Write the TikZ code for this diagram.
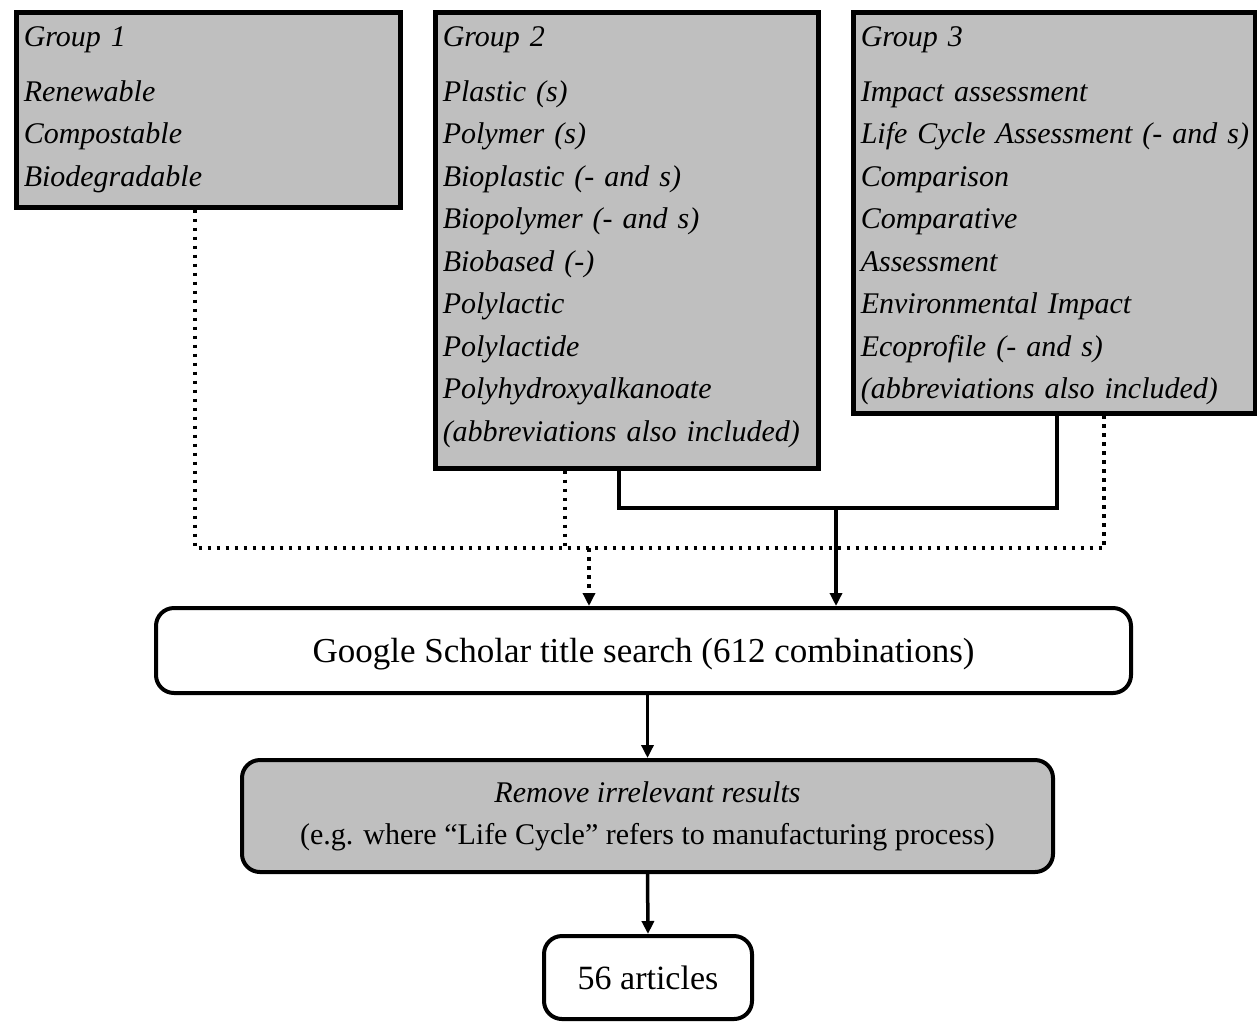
\documentclass[tikz,border=0pt]{standalone}
\usepackage{fontspec}
\setmainfont{Liberation Serif}
\usetikzlibrary{arrows.meta, positioning}
\definecolor{boxgray}{gray}{0.75}

\begin{document}
\begin{tikzpicture}[x=1pt, y=-1pt, >={Triangle[length=13pt, width=12pt]},
	grpbox/.style={draw, line width=4.5pt, fill=boxgray, anchor=north west,
		align=left, inner xsep=7.5pt, inner ysep=0pt,
		font=\fontsize{30}{42.5}\selectfont\itshape},
	stepbox/.style={draw, line width=4pt, rounded corners=18pt,
		align=center, inner sep=0pt},
	solline/.style={line width=3.5pt},
	dotline/.style={line width=3.5pt, dash pattern=on 3.5pt off 5.5pt}]
	
	\useasboundingbox (0,0) rectangle (1257,1021);
	
	% Search term groups
	\node[grpbox, minimum width=384pt, text width=369pt] (g1) at (14,10)
		{\rule{0pt}{34pt}Group 1\\[12.5pt] Renewable\\ Compostable\\ Biodegradable\rule[-21pt]{0pt}{0pt}};
	\node[grpbox, minimum width=383pt, text width=368pt] (g2) at (433,10)
		{\rule{0pt}{34pt}Group 2\\[12.5pt] Plastic (s)\\ Polymer (s)\\ Bioplastic (- and s)\\ Biopolymer (- and s)\\
		 Biobased (-)\\ Polylactic\\ Polylactide\\ Polyhydroxyalkanoate\\ (abbreviations also included)\rule[-27pt]{0pt}{0pt}};
	\node[grpbox, minimum width=402pt, text width=387pt] (g3) at (851,10)
		{\rule{0pt}{34pt}Group 3\\[12.5pt] Impact assessment\\ \mbox{Life Cycle Assessment (- and s)}\\ Comparison\\
		 Comparative\\ Assessment\\ Environmental Impact\\ Ecoprofile (- and s)\\ (abbreviations also included)\rule[-14.5pt]{0pt}{0pt}};
	
	% Steps
	\node[stepbox, minimum width=975pt, minimum height=85pt, text height=23pt, text depth=0pt,
		font=\fontsize{35}{40}\selectfont] (gs) at (643.5,650.5)
		{Google Scholar title search (612 combinations)};
	\node[stepbox, fill=boxgray, minimum width=811pt, minimum height=112pt,
		font=\fontsize{30}{42}\selectfont] (rm) at (647.5,816)
		{\textit{Remove irrelevant results}\\ (e.g. where “Life Cycle” refers to manufacturing process)};
	\node[stepbox, minimum width=208pt, minimum height=83pt,
		font=\fontsize{34}{40}\selectfont] (art) at (648,977.5) {56 articles};
	
	% Junction points
	\coordinate (d1) at (195,548);
	\coordinate (d2) at (565,548);
	\coordinate (d3) at (1104,548);
	\coordinate (da) at (589,548);
	\coordinate (s2) at (619,508);
	\coordinate (s3) at (1057,508);
	\coordinate (sa) at (836,508);
	
	% Dotted: groups 1, 2, 3
	\draw[dotline] (g1.south -| d1) -- (d1) -- (d3) -- (g3.south -| d3);
	\draw[dotline] (g2.south -| d2) -- (d2);
	\draw[dotline, ->] (da) -- (gs.north -| da);
	
	% Solid: groups 2, 3
	\draw[solline] (g2.south -| s2) -- (s2) -- (s3) -- (g3.south -| s3);
	\draw[solline, ->] (sa) -- (gs.north -| sa);
	
	% Down the steps
	\draw[solline, ->] (gs.south -| rm.north) -- (rm.north);
	\draw[solline, ->] (rm.south) -- (art.north);
	
\end{tikzpicture}
\end{document}
